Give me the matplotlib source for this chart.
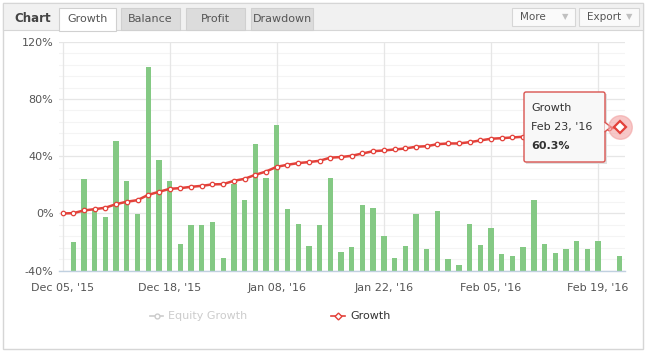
import matplotlib.pyplot as plt
from matplotlib.patches import Rectangle, FancyBboxPatch, Polygon

# growth curve (%) per trading day, Dec 05 '15 .. Feb 23 '16
growth = [0.0, 0.2, 2.1, 3.0, 4.0, 6.5, 8.2, 9.3, 13.0, 15.1,
          17.2, 17.7, 18.6, 19.3, 20.3, 20.5, 22.8, 24.2, 27.0, 29.3,
          32.6, 34.0, 35.2, 35.9, 36.8, 39.0, 39.4, 40.3, 41.9, 43.5,
          44.0, 44.7, 45.4, 46.6, 47.0, 48.4, 48.9, 48.9, 49.8, 51.0,
          52.2, 52.6, 53.1, 53.6, 54.5, 55.1, 55.6, 56.4, 57.3, 57.9,
          58.6, 59.4, 60.3]

# daily bars (top value in %, drawn up from the -40% floor); None = no bar
daily = [None, -20.0, 23.8, 2.5, -2.8, 50.5, 23.0, -0.5, 102.0, 37.0,
         23.0, -21.0, -8.4, -8.4, -6.3, -31.4, 20.3, 9.1, 48.4, 24.7,
         61.5, 2.8, -7.5, -22.4, -8.4, 24.6, -27.2, -23.3, 5.6, 4.0,
         -16.1, -31.4, -22.4, -0.7, -24.5, 1.4, -32.1, -36.3, -7.7, -21.7,
         -10.5, -28.6, -30.0, -23.1, 9.1, -21.0, -27.9, -25.1, -18.9, -24.5,
         -18.9, None, -30.0]

tick_pos = [0, 10, 20, 30, 40, 50]
tick_labels = ["Dec 05, '15", "Dec 18, '15", "Jan 08, '16",
               "Jan 22, '16", "Feb 05, '16", "Feb 19, '16"]
y_ticks = [-40, 0, 40, 80, 120]

plt.rcParams['font.family'] = ['DejaVu Sans']
W, H = 647, 352
fig = plt.figure(figsize=(W / 100, H / 100), dpi=100)
fig.patch.set_facecolor('white')

# background layer in pixel coords (top-left origin)
bg = fig.add_axes([0, 0, 1, 1], facecolor='none', zorder=0)
bg.set_xlim(0, W)
bg.set_ylim(H, 0)
bg.axis('off')

bg.add_patch(Rectangle((3, 3), 640, 346, facecolor='white', edgecolor='#d6d6d6', lw=1))
bg.add_patch(Rectangle((3, 3), 640, 27, facecolor='#f1f1f1', edgecolor='#d6d6d6', lw=0.8))
bg.text(14, 18, 'Chart', fontsize=8.5, fontweight='bold', color='#444444', va='center')

tabs = [('Growth', 59, 57, True), ('Balance', 121, 59, False),
        ('Profit', 186, 59, False), ('Drawdown', 251, 62, False)]
for name, tx, tw, active in tabs:
    bg.add_patch(Rectangle((tx, 8), tw, 23 if active else 22,
                           facecolor='white' if active else '#dcdcdc',
                           edgecolor='#d0d0d0', lw=0.8))
    bg.text(tx + tw / 2, 19.5, name, fontsize=8, color='#555555',
            ha='center', va='center')

for name, bx, bw in [('More', 512, 63), ('Export', 579, 60)]:
    bg.add_patch(Rectangle((bx, 8), bw, 18, facecolor='#fafafa',
                           edgecolor='#d6d6d6', lw=0.8))
    bg.text(bx + 8, 17, name, fontsize=7.5, color='#555555', va='center')
    bg.text(bx + bw - 10, 17, '\u25bc', fontsize=6, color='#c0c0c0',
            ha='center', va='center')

# main plot
ax = fig.add_axes([59 / W, 1 - 270.7 / H, (625 - 59) / W, (270.7 - 41.7) / H],
                  zorder=1)
ax.set_facecolor('none')
ax.set_xlim(-0.33, 52.51)
ax.set_ylim(-40, 120)

for v in range(-40, 121, 8):
    if v % 40:
        ax.axhline(v, color='#f4f4f4', lw=0.8, zorder=0)
for v in y_ticks:
    ax.axhline(v, color='#e6e6e6', lw=0.9, zorder=0)
for t in tick_pos:
    ax.axvline(t, color='#e6e6e6', lw=0.9, zorder=0)

idx = [i for i, v in enumerate(daily) if v is not None]
ax.bar(idx, [daily[i] + 40 for i in idx], bottom=-40, width=0.5,
       color='#84c984', zorder=2)

ax.plot(range(len(growth)), growth, color='#e3413a', lw=1.8, zorder=3,
        marker='o', markersize=3.2, markerfacecolor='white',
        markeredgecolor='#e3413a', markeredgewidth=0.9)

for s in ['top', 'right', 'left']:
    ax.spines[s].set_visible(False)
ax.spines['bottom'].set_color('#c0d0e0')
ax.spines['bottom'].set_linewidth(1)

ax.set_yticks(y_ticks)
ax.set_yticklabels([f'{v}%' for v in y_ticks])
ax.set_xticks(tick_pos)
ax.set_xticklabels(tick_labels)
ax.tick_params(axis='both', length=0, labelsize=8, colors='#555555')
ax.tick_params(axis='y', pad=4)
ax.tick_params(axis='x', pad=9)

# overlay layer: hover marker, tooltip, legend
ov = fig.add_axes([0, 0, 1, 1], facecolor='none', zorder=2)
ov.set_xlim(0, W)
ov.set_ylim(H, 0)
ov.axis('off')

# hover highlight on last point (position taken from the data axes)
last = len(growth) - 1
hx, hy = ov.transData.inverted().transform(ax.transData.transform((last, growth[last])))
ov.plot([hx], [hy], 'o', markersize=17, color='#f2a3a3', alpha=0.6)
ov.plot([hx], [hy], 'D', markersize=6, markerfacecolor='white',
        markeredgecolor='#e3413a', markeredgewidth=1.6)

ov.add_patch(Rectangle((526, 94), 81, 70, facecolor='#e0e0e0', edgecolor='none'))
ov.add_patch(FancyBboxPatch((524, 92), 81, 70, boxstyle='round,pad=0,rounding_size=2',
                            facecolor='#f8f8f8', edgecolor='#d9534f', lw=1))
ov.add_patch(Polygon([[604.5, 122], [611, 127], [604.5, 132]], closed=False,
                     facecolor='#f8f8f8', edgecolor='#d9534f', lw=1))
ov.text(531, 108, 'Growth', fontsize=8, color='#333333', va='center')
ov.text(531, 127, "Feb 23, '16", fontsize=8, color='#333333', va='center')
ov.text(531, 146, '60.3%', fontsize=8, fontweight='bold', color='#333333', va='center')

# legend
ov.plot([150, 163], [316, 316], color='#cccccc', lw=1.2)
ov.plot([156.5], [316], 'o', markersize=3.5, markerfacecolor='white',
        markeredgecolor='#cccccc')
ov.text(168, 316, 'Equity Growth', fontsize=8, color='#cccccc', va='center')
ov.plot([331, 345], [316, 316], color='#e3413a', lw=1.2)
ov.plot([338], [316], 'D', markersize=3.5, markerfacecolor='white',
        markeredgecolor='#e3413a')
ov.text(350, 316, 'Growth', fontsize=8, color='#333333', va='center')

fig.savefig('out.png', dpi=100, facecolor='white')
